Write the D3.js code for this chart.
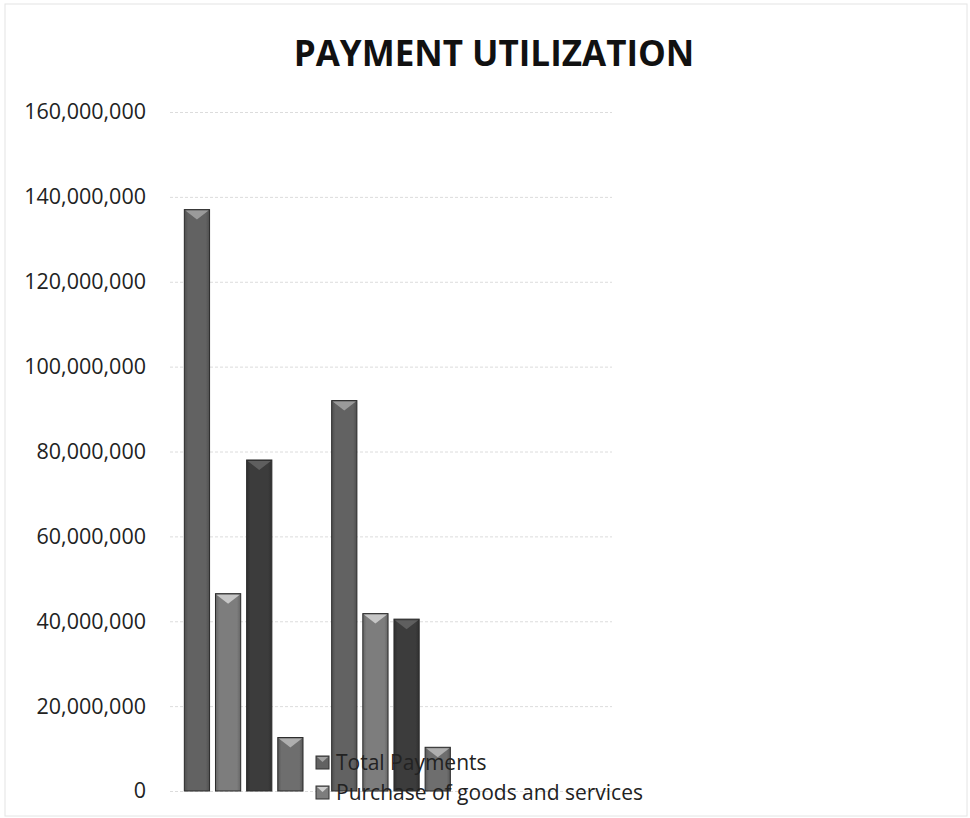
<!DOCTYPE html>
<html>
<head>
<meta charset="utf-8">
<script src="https://cdn.jsdelivr.net/npm/d3@7"></script>
<style>
  body { margin: 0; background: #fff; }
  svg { display: block; font-family: "Open Sans", "Liberation Sans", sans-serif; }
</style>
</head>
<body>
<div id="chart"></div>
<script>
// data
const categories = ["Period 1", "Period 2", "Period 3"];
const seriesNames = ["Total Payments", "Purchase of goods and services", "Series 3", "Series 4"];
const totalPayments = [137000000, 92000000, null];
const purchaseGoods = [46500000, 41800000, null];
const series3 = [78000000, 40500000, null];
const series4 = [12600000, 10300000, null];
const yTicks = [0, 20000000, 40000000, 60000000, 80000000, 100000000, 120000000, 140000000, 160000000];
const legendShown = ["Total Payments", "Purchase of goods and services"];

const seriesValues = [totalPayments, purchaseGoods, series3, series4];
const barColors = ["#626262", "#7d7d7d", "#3c3c3c", "#6e6e6e"];

const width = 970, height = 818;
const margin = { left: 170, right: 358, top: 112, bottom: 27 };

const svg = d3.select("#chart").append("svg")
    .attr("width", width)
    .attr("height", height);

// faint frame round the chart
svg.append("rect")
    .attr("x", 5).attr("y", 4)
    .attr("width", width - 8).attr("height", height - 6)
    .attr("fill", "none")
    .attr("stroke", "#e4e4e4")
    .attr("stroke-width", 1);

const x = d3.scaleBand()
    .domain(categories)
    .range([margin.left, width - margin.right]);

const xInner = d3.scaleBand()
    .domain(seriesNames)
    .range([0, x.bandwidth()])
    .paddingInner(0.19)
    .paddingOuter(0.46);

const y = d3.scaleLinear()
    .domain([0, 160000000])
    .range([height - margin.bottom, margin.top]);

// gradients for the bevelled bars
const defs = svg.append("defs");
barColors.forEach((c, i) => {
    const g = defs.append("linearGradient")
        .attr("id", "grad" + i)
        .attr("x1", "0%").attr("x2", "100%");
    g.append("stop").attr("offset", "0%").attr("stop-color", d3.color(c).darker(0.6));
    g.append("stop").attr("offset", "15%").attr("stop-color", c);
    g.append("stop").attr("offset", "85%").attr("stop-color", c);
    g.append("stop").attr("offset", "100%").attr("stop-color", d3.color(c).darker(0.6));
});

// gridlines
svg.append("g")
    .selectAll("line")
    .data(yTicks)
    .join("line")
    .attr("x1", margin.left)
    .attr("x2", width - margin.right)
    .attr("y1", d => y(d) + 0.5)
    .attr("y2", d => y(d) + 0.5)
    .attr("stroke", "#dcdcdc")
    .attr("stroke-width", 1)
    .attr("stroke-dasharray", "3,2");

// y axis labels
const yAxis = svg.append("g")
    .attr("transform", `translate(${margin.left},0)`)
    .call(d3.axisLeft(y).tickValues(yTicks).tickFormat(d3.format(",")).tickSize(0).tickPadding(24));
yAxis.select(".domain").remove();
yAxis.selectAll("text")
    .attr("font-family", "'Open Sans', 'Liberation Sans', sans-serif")
    .attr("font-size", 21.5)
    .attr("fill", "#222");

// title
svg.append("text")
    .attr("x", 494)
    .attr("y", 66)
    .attr("text-anchor", "middle")
    .attr("font-size", 35)
    .attr("font-weight", "bold")
    .attr("fill", "#111")
    .text("PAYMENT UTILIZATION");

// bars
const groups = svg.append("g")
    .selectAll("g")
    .data(categories)
    .join("g")
    .attr("transform", d => `translate(${x(d)},0)`);

const bars = groups.selectAll("g.bar")
    .data((d, ci) => seriesNames.map((s, si) => ({ series: s, si: si, value: seriesValues[si][ci] }))
        .filter(e => e.value != null))
    .join("g")
    .attr("class", "bar");

bars.append("rect")
    .attr("x", d => xInner(d.series))
    .attr("y", d => y(d.value))
    .attr("width", xInner.bandwidth())
    .attr("height", d => y(0) - y(d.value))
    .attr("fill", d => `url(#grad${d.si})`)
    .attr("stroke", "#2a2a2a")
    .attr("stroke-width", 1);

// lighter top bevel
bars.append("path")
    .attr("d", d => {
        const x0 = xInner(d.series), w = xInner.bandwidth(), t = y(d.value);
        return `M${x0 + 1},${t + 1}L${x0 + w - 1},${t + 1}L${x0 + w / 2},${t + 10}Z`;
    })
    .attr("fill", d => d3.color(barColors[d.si]).brighter(1.4))
    .attr("opacity", 0.9);

// legend (drawn over the bars, as in the picture)
const legend = svg.append("g")
    .selectAll("g")
    .data(legendShown)
    .join("g")
    .attr("transform", (d, i) => `translate(316,${756 + i * 30})`);

legend.append("rect")
    .attr("width", 13)
    .attr("height", 13)
    .attr("fill", (d, i) => barColors[seriesNames.indexOf(d)])
    .attr("stroke", "#333");

legend.append("path")
    .attr("d", "M1,1L12,1L6.5,6Z")
    .attr("fill", (d, i) => d3.color(barColors[seriesNames.indexOf(d)]).brighter(1.4));

legend.append("text")
    .attr("x", 20)
    .attr("y", 14)
    .attr("font-size", 21)
    .attr("fill", "#222")
    .text(d => d);
</script>
</body>
</html>
